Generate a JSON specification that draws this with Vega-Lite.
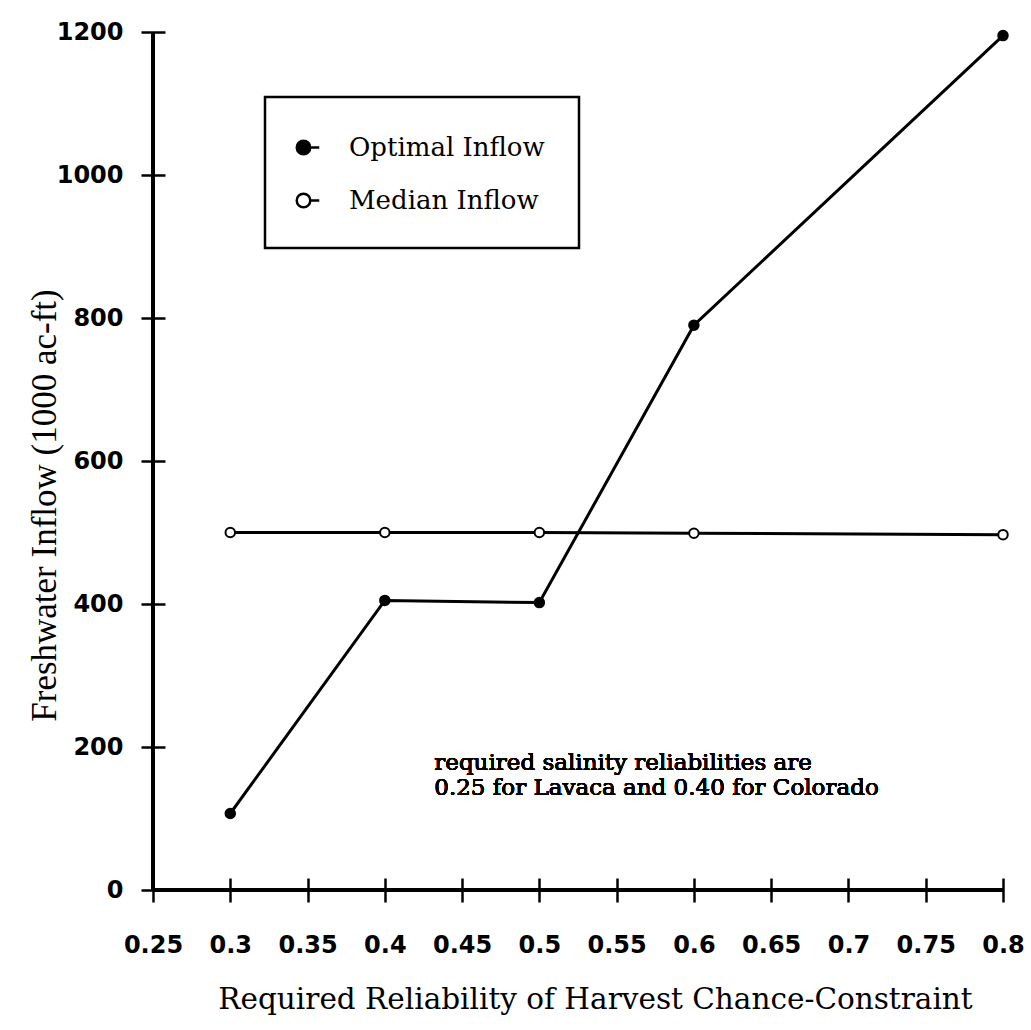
{
  "$schema": "https://vega.github.io/schema/vega-lite/v6.json",
  "width": 850,
  "height": 858,
  "autosize": {"type": "none"},
  "padding": {"left": 153, "top": 32, "right": 28, "bottom": 140},
  "background": "white",
  "config": {
    "view": {"stroke": null},
    "legend": {"strokeWidth": 2.5},
    "axis": {
      "domain": false,
      "tickColor": "black",
      "tickWidth": 2.5,
      "tickSize": 24,
      "offset": -12,
      "grid": false,
      "labelColor": "black",
      "labelFont": "DejaVu Sans",
      "labelFontWeight": "bold",
      "labelFontSize": 24,
      "labelFlush": false,
      "titleColor": "black",
      "titleFontWeight": "normal"
    }
  },
  "data": {
    "values": [
      {"series": "Optimal Inflow", "reliability": 0.3, "inflow": 107},
      {"series": "Optimal Inflow", "reliability": 0.4, "inflow": 405},
      {"series": "Optimal Inflow", "reliability": 0.5, "inflow": 402},
      {"series": "Optimal Inflow", "reliability": 0.6, "inflow": 790},
      {"series": "Optimal Inflow", "reliability": 0.8, "inflow": 1195},
      {"series": "Median Inflow", "reliability": 0.3, "inflow": 500},
      {"series": "Median Inflow", "reliability": 0.4, "inflow": 500},
      {"series": "Median Inflow", "reliability": 0.5, "inflow": 500},
      {"series": "Median Inflow", "reliability": 0.6, "inflow": 499},
      {"series": "Median Inflow", "reliability": 0.8, "inflow": 497}
    ]
  },
  "layer": [
    {
      "mark": {"type": "line", "color": "black", "strokeWidth": 3},
      "encoding": {
        "x": {
          "field": "reliability", "type": "quantitative",
          "scale": {"domain": [0.25, 0.8], "nice": false, "zero": false},
          "axis": {
            "values": [0.25, 0.3, 0.35, 0.4, 0.45, 0.5, 0.55, 0.6, 0.65, 0.7, 0.75, 0.8],
            "format": "~g",
            "labelPadding": 31,
            "title": "Required Reliability of Harvest Chance-Constraint",
            "titleFont": "DejaVu Serif",
            "titleFontSize": 29.5, "titlePadding": 28,
            "titleX": 442, "titleAnchor": "middle"
          }
        },
        "y": {
          "field": "inflow", "type": "quantitative",
          "scale": {"domain": [0, 1200], "nice": false},
          "axis": {
            "values": [0, 200, 400, 600, 800, 1000, 1200],
            "format": "d",
            "labelPadding": 18,
            "title": "Freshwater Inflow (1000 ac-ft)",
            "titleFont": "Liberation Serif",
            "titleFontSize": 35,
            "titleX": -121, "titleY": 473,
            "titleAlign": "center", "titleBaseline": "middle", "titleAngle": -90
          }
        },
        "detail": {"field": "series"}
      }
    },
    {
      "mark": {"type": "rule", "color": "black", "strokeWidth": 3},
      "encoding": {"y": {"datum": 0, "type": "quantitative"}}
    },
    {
      "mark": {"type": "rule", "color": "black", "strokeWidth": 3},
      "encoding": {"x": {"datum": 0.25, "type": "quantitative"}}
    },
    {
      "mark": {"type": "point", "size": 90, "stroke": "black", "strokeWidth": 2, "opacity": 1},
      "encoding": {
        "x": {"field": "reliability", "type": "quantitative"},
        "y": {"field": "inflow", "type": "quantitative"},
        "fill": {
          "field": "series", "type": "nominal",
          "scale": {"domain": ["Optimal Inflow", "Median Inflow"], "range": ["black", "white"]},
          "legend": {
            "title": null,
            "orient": "none",
            "legendX": 112,
            "legendY": 65,
            "strokeColor": "black",
            "padding": 34,
            "symbolType": "M -1.25 0 A 0.45 0.45 0 1 0 -0.35 0 A 0.45 0.45 0 1 0 -1.25 0 Z M -0.35 0 L 0.25 0",
            "symbolSize": 900,
            "symbolStrokeColor": "black",
            "symbolStrokeWidth": 2.5,
            "labelFont": "DejaVu Serif",
            "labelFontSize": 26,
            "labelColor": "black",
            "labelOffset": 17,
            "labelLimit": 400,
            "rowPadding": 23,
            "encode": {
              "legend": {"update": {"strokeWidth": {"value": 2.5}}}
            }
          }
        }
      }
    },
    {
      "mark": {"type": "text", "align": "left", "baseline": "middle", "font": "DejaVu Serif", "fontSize": 23, "color": "black", "lineHeight": 25},
      "encoding": {
        "x": {"datum": 0.432, "type": "quantitative"},
        "y": {"datum": 178, "type": "quantitative"},
        "text": {"value": ["required salinity reliabilities are", "0.25 for Lavaca and 0.40 for Colorado"]}
      }
    }
  ]
}
